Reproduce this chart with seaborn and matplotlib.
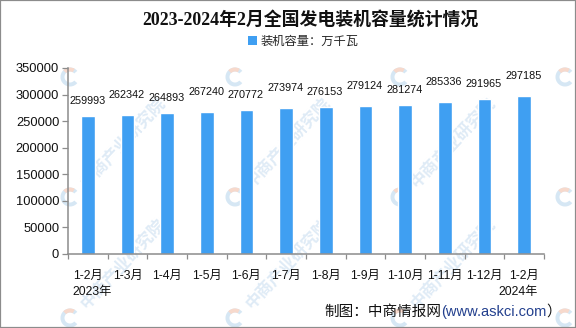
import matplotlib
matplotlib.use("Agg")
import matplotlib.pyplot as plt
from matplotlib.patches import Patch, Rectangle, Wedge
import seaborn as sns
import pandas as pd

# ---------------- data ----------------
categories = ["1-2月", "1-3月", "1-4月", "1-5月", "1-6月", "1-7月",
              "1-8月", "1-9月", "1-10月", "1-11月", "1-12月", "1-2月"]
years = ["2023年", "2024年"]
capacity = [259993, 262342, 264893, 267240, 270772, 273974,
            276153, 279124, 281274, 285336, 291965, 297185]
yticks = [0, 50000, 100000, 150000, 200000, 250000, 300000, 350000]
title = "2023-2024年2月全国发电装机容量统计情况"
legend_label = "装机容量：万千瓦"
source_a = "制图：中商情报网"
source_b = "(www.askci.com"
source_c = "）"
watermark = "中商产业研究院"

# ---------------- style ----------------
sns.set_theme(style="white")
plt.rcParams["font.family"] = ["Liberation Sans", "Noto Sans CJK SC"]

BAR = "#3f9ff2"
SPINE = "#8c8c8c"

keys = [f"{i}_{c}" for i, c in enumerate(categories)]
df = pd.DataFrame({"key": keys, "value": capacity})

W, H = 576, 328
fig = plt.figure(figsize=(W / 100, H / 100), dpi=100, facecolor="white")

# watermarks (behind everything)
wm_cols = [70, 235, 400, 565]
wm_rows = [77, 197, 318]
for cx in wm_cols:
    for cy in wm_rows:
        xi, yi = cx / 100, (H - cy) / 100
        fig.patches.append(Wedge((xi, yi), 0.095, 40, 320, width=0.04,
                                 transform=fig.dpi_scale_trans,
                                 facecolor="#d6e7f4", edgecolor="none", zorder=-2))
        fig.patches.append(Wedge((xi, yi), 0.095, 60, 135, width=0.04,
                                 transform=fig.dpi_scale_trans,
                                 facecolor="#f7d9cc", edgecolor="none", zorder=-2))
        if cy > 100 and cx < 500:
            fig.text((cx + 14) / W, 1 - (cy - 12) / H, watermark, rotation=47,
                     rotation_mode="anchor", ha="left", va="center",
                     fontsize=12, fontweight="bold", color="#dfebf6",
                     family=["Noto Sans CJK SC"], zorder=-1)

ax = fig.add_axes([68 / W, 1 - 254 / H, (544 - 68) / W, (254 - 68) / H])
ax.set_facecolor("none")
ax.patch.set_alpha(0)

sns.barplot(data=df, x="key", y="value", order=keys, color=BAR,
            saturation=1, width=0.35, ax=ax, zorder=2)

ax.set_ylim(0, 350000)
ax.set_xlim(-0.5, len(categories) - 0.5)
ax.set_yticks(yticks)
ax.set_yticklabels([str(v) for v in yticks], fontsize=9.3, color="#111111")
ax.set_xticks(range(len(categories)))
ax.set_xticklabels(categories, fontsize=8.8, color="#111111")
ax.set_xticks([i - 0.5 for i in range(len(categories) + 1)], minor=True)
ax.tick_params(axis="x", which="major", length=0, pad=11.5)
ax.tick_params(axis="x", which="minor", length=3.5, width=0.9,
               color=SPINE, direction="out", bottom=True)
ax.tick_params(axis="y", which="major", length=4.3, width=0.9,
               color=SPINE, direction="out", left=True, pad=2)
ax.set_xlabel("")
ax.set_ylabel("")
for s in ["top", "right"]:
    ax.spines[s].set_visible(False)
for s in ["left", "bottom"]:
    ax.spines[s].set_color(SPINE)
    ax.spines[s].set_linewidth(1.1)
ax.grid(False)

# data labels
for i, v in enumerate(capacity):
    off = 10.8 if i % 2 == 0 else 14.4
    ax.annotate(str(v), xy=(i, v), xytext=(-0.5, off), textcoords="offset points",
                ha="center", va="center", fontsize=7.8, color="#111111")

# year labels
ax.annotate(years[0], xy=(-0.5, 0), xycoords=("data", "axes fraction"),
            xytext=(3.4, -27.5), textcoords="offset points",
            ha="left", va="center", fontsize=8.8, color="#111111")
ax.annotate(years[1], xy=(len(categories) - 0.5, 0),
            xycoords=("data", "axes fraction"),
            xytext=(-4.3, -27.5), textcoords="offset points",
            ha="right", va="center", fontsize=8.8, color="#111111")

# title
fig.text(310.5 / W, 1 - 20 / H, title, ha="center", va="center",
         fontsize=12.9, fontweight="bold", color="#111111",
         family=["Liberation Serif", "Noto Sans CJK SC"])

# legend
fig.legend(handles=[Patch(facecolor=BAR, edgecolor="none", label=legend_label)],
           loc="center", bbox_to_anchor=(303 / W, 1 - 42 / H),
           frameon=False, fontsize=8.8, handlelength=0.75, handleheight=0.75,
           handletextpad=0.3, borderpad=0)

# source
t1 = fig.text(324 / W, 1 - 312 / H, source_a, ha="left", va="center",
              fontsize=10.5, color="#111111")
t2 = ax.annotate(source_b, xy=(1, 0.5), xycoords=t1, ha="left", va="center",
                 fontsize=10.5, color="#23408e", annotation_clip=False)
t3 = ax.annotate(source_c, xy=(1, 0.5), xycoords=t2, ha="left", va="center",
                 fontsize=10.5, color="#111111", annotation_clip=False)

# figure border
fig.patches.append(Rectangle((0, 0), 1, 1, transform=fig.transFigure,
                             fill=False, edgecolor="#8c8c8c", linewidth=1.6,
                             zorder=10))

fig.savefig("out.png", dpi=100, facecolor="white")
